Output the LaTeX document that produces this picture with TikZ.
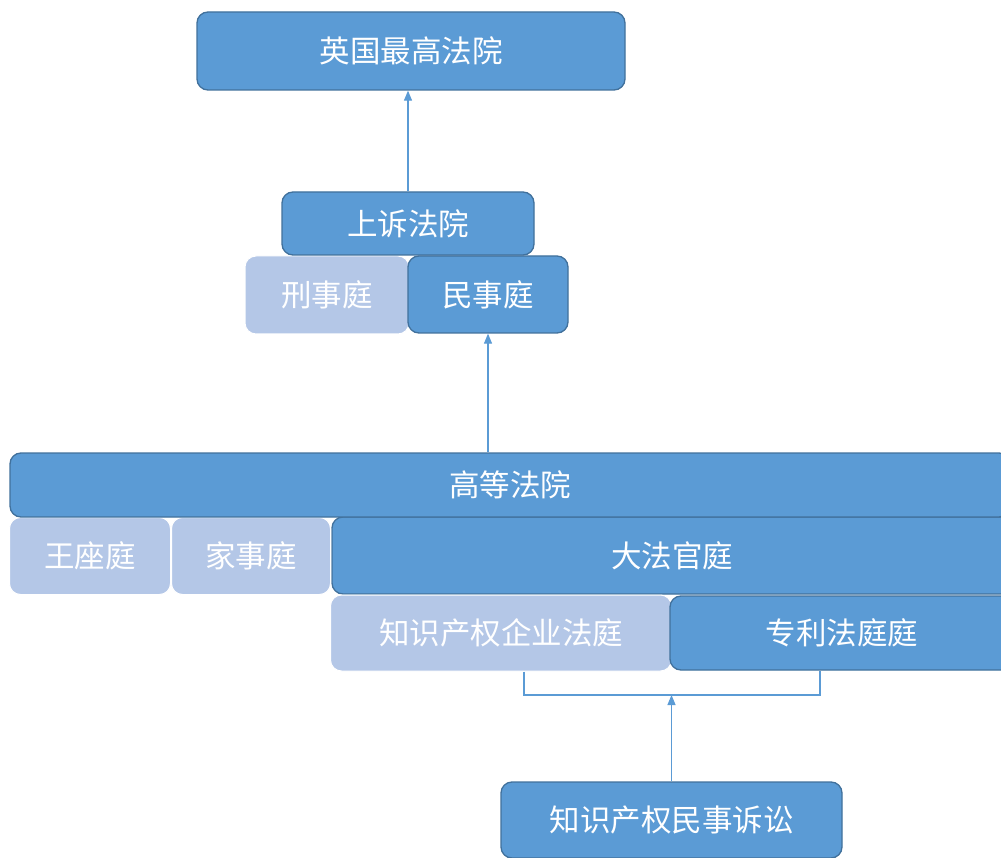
\documentclass[tikz,border=0pt]{standalone}
\usepackage{fontspec}
\setmainfont{Noto Sans CJK SC}
\usetikzlibrary{arrows.meta}
\definecolor{dkblue}{HTML}{5B9BD5}
\definecolor{dkedge}{HTML}{41719C}
\definecolor{ltblue}{HTML}{B4C7E7}
\definecolor{linecol}{HTML}{5B9BD5}
\tikzset{
  box/.style={rounded corners=11pt, inner sep=0pt, text=white, font=\fontsize{30.5}{32}\selectfont},
  darkbox/.style={box, fill=dkblue, draw=dkedge, line width=1.3pt},
  lightbox/.style={box, fill=ltblue, draw=white, line width=1pt},
  conn/.style={draw=linecol, line width=1.1pt},
  arr/.style={conn, -{Triangle[width=8pt,length=10pt]}}
}
\begin{document}
\begin{tikzpicture}[x=1pt,y=-1pt]
\useasboundingbox (0,0) rectangle (1001,858);
\fill[white] (0,0) rectangle (1001,858);
\clip (0,0) rectangle (1001,858);
% Supreme court
\node[darkbox, minimum width=428pt, minimum height=78pt] (sup) at (411,51) {英国最高法院};
% Court of appeal divisions
\node[lightbox, minimum width=164pt, minimum height=78pt] (crim) at (327,295) {刑事庭};
\node[darkbox, minimum width=160pt, minimum height=77pt] (civil) at (488,294.5) {民事庭};
\node[darkbox, minimum width=252pt, minimum height=63pt] (appeal) at (408,223.5) {上诉法院};
% High court divisions
\node[darkbox, minimum width=680pt, minimum height=77pt] (chan) at (672,555.5) {大法官庭};
\node[lightbox, minimum width=161pt, minimum height=77pt] (qb) at (90,556) {王座庭};
\node[lightbox, minimum width=159pt, minimum height=77pt] (fam) at (251,556) {家事庭};
\node[darkbox, minimum width=1000pt, minimum height=64pt] (high) at (510,485) {高等法院};
\node[lightbox, minimum width=341pt, minimum height=76pt] (ipent) at (501,633) {知识产权企业法庭};
\node[darkbox, minimum width=344pt, minimum height=74pt] (patent) at (842,633) {专利法庭庭};
% IP civil litigation
\node[darkbox, minimum width=341pt, minimum height=76pt] (ipcase) at (671.5,820) {知识产权民事诉讼};
% connectors
\draw[arr] (appeal.north) -- (appeal.north |- sup.south);
\draw[arr] (civil.south |- high.north) -- (civil.south);
\coordinate (brk) at (672,695);
\draw[conn] ([xshift=23pt]ipent.south) |- (brk) -| ([xshift=-22pt]patent.south);
\draw[arr] (ipcase.north) -- (ipcase.north |- brk);
\end{tikzpicture}
\end{document}
